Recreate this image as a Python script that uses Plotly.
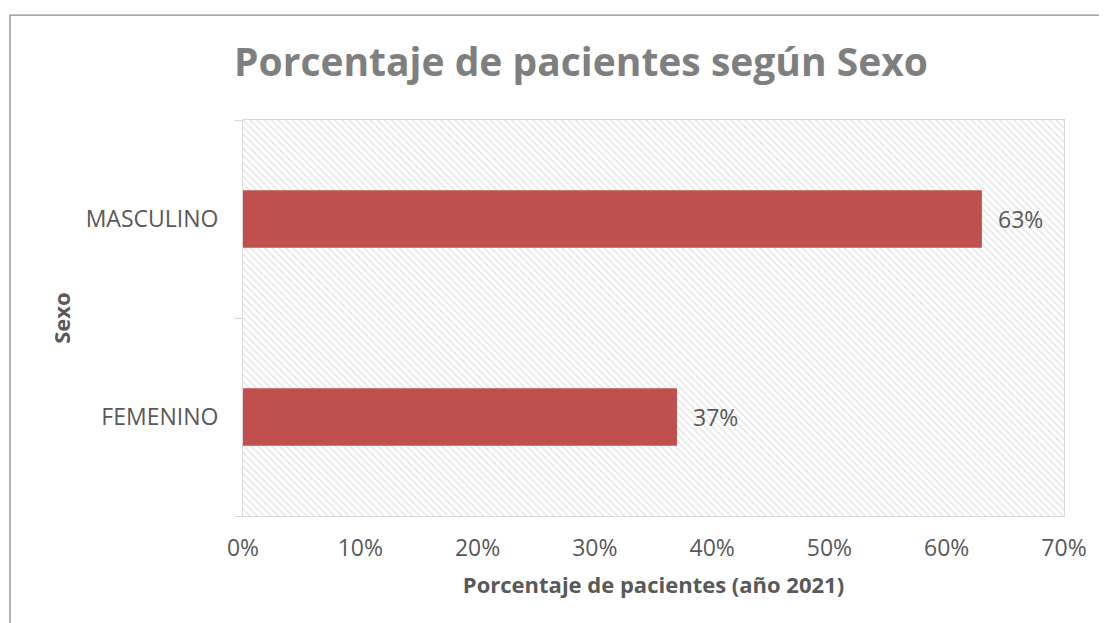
import plotly.graph_objects as go

categories = ["FEMENINO", "MASCULINO"]
values = [37, 63]
x_ticks = [0, 10, 20, 30, 40, 50, 60, 70]
x_tick_labels = ["0%", "10%", "20%", "30%", "40%", "50%", "60%", "70%"]
x_max = 70

FONT = "Open Sans"
TXT = "#595959"

fig = go.Figure()

# hatched plot-area background
fig.add_trace(go.Bar(
    x=[x_max] * len(categories), y=categories, orientation="h", width=1,
    marker=dict(color="white", line=dict(width=0),
                pattern=dict(shape="\\", fgcolor="#C2C2C2", bgcolor="white", size=5, solidity=0.25)),
    hoverinfo="skip", showlegend=False,
))

fig.add_trace(go.Bar(
    x=values, y=categories, orientation="h", width=0.29,
    marker=dict(color="#C0504D", line=dict(width=0)),
    showlegend=False,
))

for c, v in zip(categories, values):
    fig.add_annotation(x=v, y=c, text=f"{v}%", showarrow=False, xanchor="left",
                       xshift=14, font=dict(family=FONT, size=23, color=TXT))

fig.add_shape(type="rect", xref="paper", yref="paper", x0=-0.2838, x1=1.07, y0=-0.3, y1=1.265,
              line=dict(color="#8C8C8C", width=1.3), fillcolor="rgba(0,0,0,0)", layer="above")

fig.update_layout(
    width=1099, height=615,
    margin=dict(l=235, r=43, t=112, b=107),
    paper_bgcolor="white", plot_bgcolor="white",
    barmode="overlay",
    title=dict(text="<b>Porcentaje de pacientes según Sexo</b>", x=0.5214, xanchor="center",
               y=0.912, yanchor="middle", font=dict(family=FONT, size=39, color="#7F7F7F")),
    xaxis=dict(range=[0, x_max], tickvals=x_ticks, ticktext=x_tick_labels,
               showgrid=True, gridcolor="#D9D9D9", gridwidth=1,
               showline=True, linecolor="#D9D9D9", mirror=True, zeroline=False,
               ticks="", ticklabelstandoff=11, tickfont=dict(family=FONT, size=23, color=TXT),
               title=dict(text="<b>Porcentaje de pacientes (año 2021)</b>", standoff=16,
                          font=dict(family=FONT, size=22, color=TXT))),
    yaxis=dict(categoryorder="array", categoryarray=categories,
               tickson="boundaries", ticks="outside", ticklen=8, tickcolor="#D9D9D9",
               showgrid=True, gridcolor="#D9D9D9", gridwidth=1,
               showline=True, linecolor="#D9D9D9", mirror=True,
               ticklabelstandoff=19, tickfont=dict(family=FONT, size=23, color=TXT),
               title=dict(text="<b>Sexo</b>", standoff=8,
                          font=dict(family=FONT, size=22, color=TXT))),
)

fig.write_html("out.html")
